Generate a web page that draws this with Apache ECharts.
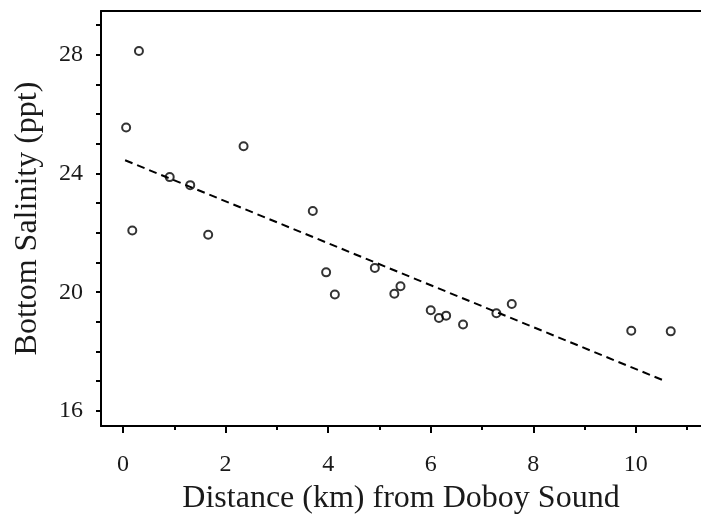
<!DOCTYPE html>
<html>
<head>
<meta charset="utf-8">
<script src="https://cdn.jsdelivr.net/npm/echarts@6/dist/echarts.min.js"></script>
<style>
html,body{margin:0;padding:0;background:#fff;}
#chart{width:701px;height:520px;}
</style>
</head>
<body>
<div id="chart"></div>
<script>
var distanceKm = [0.06, 0.31, 0.18, 0.91, 1.31, 1.66, 2.35, 3.70, 3.96, 4.13, 4.91, 5.29, 5.41, 6.00, 6.16, 6.30, 6.63, 7.28, 7.58, 9.91, 10.68];
var salinityPpt = [25.55, 28.13, 22.08, 23.88, 23.61, 21.94, 24.92, 22.74, 20.67, 19.92, 20.82, 19.95, 20.20, 19.39, 19.13, 19.21, 18.91, 19.29, 19.60, 18.70, 18.68];
var fitX = [0.04, 10.55];
var fitY = [24.45, 17.02];
var xLabels = [0, 2, 4, 6, 8, 10];
var xMinor = [1, 3, 5, 7, 9, 11];
var yLabels = [16, 20, 24, 28];
var yTicks = [16, 17, 18, 19, 20, 21, 22, 23, 24, 25, 26, 27, 28, 29];

var pts = distanceKm.map(function (x, i) { return [x, salinityPpt[i]]; });
var fit = fitX.map(function (x, i) { return [x, fitY[i]]; });

var FONT = '"Liberation Serif", "DejaVu Serif", serif';
var TXT = '#1a1a1a';
var XMIN = -0.43, XMAX = 11.27, YMIN = 15.49, YMAX = 29.48;

var chart = echarts.init(document.getElementById('chart'), null, {renderer: 'canvas'});
chart.setOption({
  animation: false,
  backgroundColor: '#fff',
  grid: {left: 101, top: 11, right: 0, bottom: 92, containLabel: false},
  xAxis: [
    {
      type: 'value', position: 'bottom', min: XMIN, max: XMAX,
      name: 'Distance (km) from Doboy Sound', nameLocation: 'middle', nameGap: 57,
      nameTextStyle: {fontFamily: FONT, fontSize: 32, color: TXT},
      axisLine: {show: true, onZero: false, lineStyle: {color: '#000', width: 2}},
      axisTick: {show: true, length: 7, customValues: xLabels, lineStyle: {color: '#000', width: 2}},
      axisLabel: {customValues: xLabels, margin: 27, fontFamily: FONT, fontSize: 24, color: TXT},
      splitLine: {show: false}
    },
    {
      type: 'value', position: 'bottom', min: XMIN, max: XMAX,
      axisLine: {show: false, onZero: false},
      axisTick: {show: true, length: 4, customValues: xMinor, lineStyle: {color: '#000', width: 2}},
      axisLabel: {show: false},
      splitLine: {show: false}
    },
    {
      type: 'value', position: 'top', min: XMIN, max: XMAX,
      axisLine: {show: true, onZero: false, lineStyle: {color: '#000', width: 2}},
      axisTick: {show: false}, axisLabel: {show: false}, splitLine: {show: false}
    }
  ],
  yAxis: [{
    type: 'value', min: YMIN, max: YMAX,
    name: 'Bottom Salinity (ppt)', nameLocation: 'middle', nameGap: 57,
    nameTextStyle: {fontFamily: FONT, fontSize: 32, color: TXT},
    axisLine: {show: true, onZero: false, lineStyle: {color: '#000', width: 2}},
    axisTick: {show: true, length: 5, customValues: yTicks, lineStyle: {color: '#000', width: 2}},
    axisLabel: {customValues: yLabels, margin: 18, fontFamily: FONT, fontSize: 24, color: TXT},
    splitLine: {show: false}
  }],
  series: [
    {
      type: 'line', xAxisIndex: 0, data: fit, symbol: 'none', silent: true,
      lineStyle: {color: '#000', width: 2, type: [8, 5]}, z: 2
    },
    {
      type: 'scatter', xAxisIndex: 0, data: pts, symbol: 'circle', symbolSize: 8,
      itemStyle: {color: 'rgba(255,255,255,0)', borderColor: '#000', borderWidth: 2}, z: 3
    }
  ]
});
</script>
</body>
</html>
